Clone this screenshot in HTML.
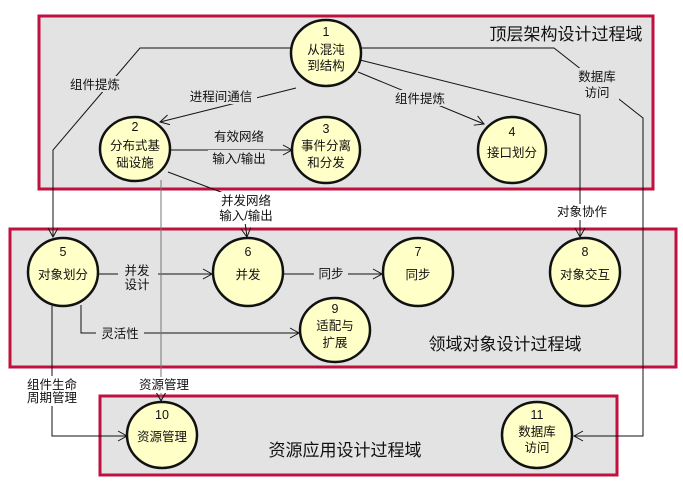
<!DOCTYPE html>
<html><head><meta charset="utf-8"><style>
html,body{margin:0;padding:0;background:#fff;}
svg{display:block;font-family:"Liberation Sans","Noto Sans CJK SC","WenQuanYi Zen Hei",sans-serif;}
text{fill:#111;}
</style></head><body>
<svg width="683" height="483" viewBox="0 0 683 483" xmlns="http://www.w3.org/2000/svg">
<defs>
<marker id="a" markerWidth="12" markerHeight="12" refX="10" refY="6" orient="auto" markerUnits="userSpaceOnUse">
<path d="M1,1 L10,6 L1,11" fill="none" stroke="#111" stroke-width="1"/>
</marker>
</defs>
<!-- boxes -->
<rect x="39" y="16" width="614" height="173" fill="#e3e3e3" stroke="#c01040" stroke-width="3"/>
<rect x="10" y="229" width="666" height="138" fill="#e3e3e3" stroke="#c01040" stroke-width="3"/>
<rect x="100" y="396" width="517" height="79" fill="#e3e3e3" stroke="#c01040" stroke-width="3"/>

<!-- connectors -->
<g fill="none" stroke="#111" stroke-width="1">
<polyline points="292,48 140,48 53,150 53,237" marker-end="url(#a)"/>
<polyline points="296,88 160,122" marker-end="url(#a)"/>
<polyline points="358,72 484,124" marker-end="url(#a)"/>
<polyline points="360,60 580,115 580,237" marker-end="url(#a)"/>
<polyline points="360,48 554,48 643,118 643,436 574,436" marker-end="url(#a)"/>
<polyline points="170,150 292,150" marker-end="url(#a)"/>
<polyline points="168,172 242,200 247,237" marker-end="url(#a)"/>
<polyline points="98,274 212,274" marker-end="url(#a)"/>
<polyline points="283,274 382,274" marker-end="url(#a)"/>
<polyline points="81,305 81,333 299,333" marker-end="url(#a)"/>
<polyline points="52,306 52,436 127,436" marker-end="url(#a)"/>
</g>
<polyline points="161,180 161,401" fill="none" stroke="#777" stroke-width="1" marker-end="url(#a)"/>

<!-- label backgrounds -->
<g fill="#e3e3e3">
<rect x="66" y="76" width="58" height="16"/>
<rect x="185" y="88" width="72" height="16"/>
<rect x="390" y="90" width="60" height="16"/>
<rect x="575" y="68" width="44" height="34"/>
<rect x="208" y="128" width="62" height="16"/>
<rect x="208" y="150" width="62" height="16"/>
<rect x="118" y="262" width="40" height="30"/>
<rect x="314" y="266" width="34" height="16"/>
<rect x="96" y="325" width="48" height="16"/>
</g>
<g fill="#fff">
<rect x="214" y="192" width="64" height="32"/>
<rect x="553" y="204" width="58" height="16"/>
<rect x="24" y="376" width="56" height="30"/>
<rect x="134" y="377" width="60" height="16"/>
</g>

<!-- labels -->
<g font-size="12.5" text-anchor="middle">
<text x="95" y="89">组件提炼</text>
<text x="221" y="101">进程间通信</text>
<text x="420" y="103">组件提炼</text>
<text x="597" y="81">数据库</text>
<text x="597" y="97">访问</text>
<text x="239" y="141">有效网络</text>
<text x="239" y="163">输入/输出</text>
<text x="246" y="205">并发网络</text>
<text x="246" y="220">输入/输出</text>
<text x="582" y="216">对象协作</text>
<text x="137" y="275">并发</text>
<text x="137" y="289">设计</text>
<text x="331" y="278">同步</text>
<text x="120" y="338">灵活性</text>
<text x="52" y="389">组件生命</text>
<text x="52" y="402">周期管理</text>
<text x="164" y="389">资源管理</text>
</g>
<g font-size="17" text-anchor="middle" fill="#222">
<text x="566" y="40">顶层架构设计过程域</text>
<text x="505" y="350">领域对象设计过程域</text>
<text x="345" y="456">资源应用设计过程域</text>
</g>

<!-- nodes -->
<g stroke="#111" stroke-width="2.5" fill="#ffffc8">
<ellipse cx="326" cy="53" rx="35" ry="33"/>
<ellipse cx="135" cy="149" rx="35" ry="32"/>
<ellipse cx="326" cy="150" rx="34" ry="33"/>
<ellipse cx="512" cy="150" rx="34" ry="33"/>
<ellipse cx="63" cy="272" rx="35" ry="34"/>
<ellipse cx="248" cy="272" rx="35" ry="34"/>
<ellipse cx="418" cy="272" rx="35" ry="34"/>
<ellipse cx="585" cy="272" rx="35" ry="34"/>
<ellipse cx="335" cy="330" rx="35" ry="32"/>
<ellipse cx="162" cy="435" rx="35" ry="33"/>
<ellipse cx="537" cy="435" rx="35" ry="33"/>
</g>
<g font-size="12.5" text-anchor="middle">
<text x="326" y="36">1</text><text x="326" y="54">从混沌</text><text x="326" y="70">到结构</text>
<text x="135" y="131">2</text><text x="135" y="150">分布式基</text><text x="135" y="167">础设施</text>
<text x="326" y="133">3</text><text x="326" y="150">事件分离</text><text x="326" y="167">和分发</text>
<text x="512" y="136">4</text><text x="512" y="157">接口划分</text>
<text x="63" y="256">5</text><text x="63" y="279">对象划分</text>
<text x="248" y="256">6</text><text x="248" y="279">并发</text>
<text x="418" y="256">7</text><text x="418" y="279">同步</text>
<text x="585" y="256">8</text><text x="585" y="279">对象交互</text>
<text x="335" y="313">9</text><text x="335" y="330">适配与</text><text x="335" y="347">扩展</text>
<text x="162" y="419">10</text><text x="162" y="441">资源管理</text>
<text x="537" y="419">11</text><text x="537" y="436">数据库</text><text x="537" y="452">访问</text>
</g>
</svg>
</body></html>
